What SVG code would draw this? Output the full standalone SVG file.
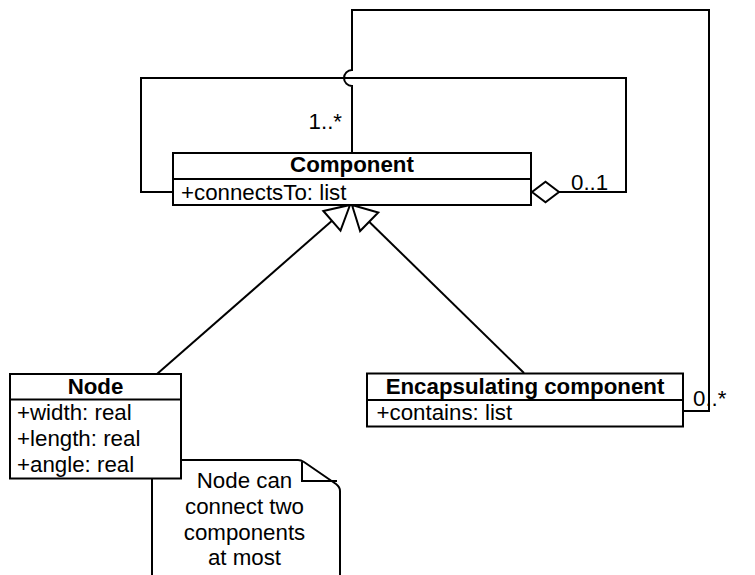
<svg xmlns="http://www.w3.org/2000/svg" width="755" height="575" viewBox="0 0 755 575">
  <style>
    text { font-family: "Liberation Sans", Arial, Helvetica, sans-serif; font-size: 22.3px; fill: #000; }
    .title { font-weight: bold; text-anchor: middle; }
    .mid { text-anchor: middle; }
    .end { text-anchor: end; }
    .box { fill: #fff; stroke: #000; stroke-width: 2; }
    .sep { stroke: #000; stroke-width: 2; fill: none; }
    .edge { fill: none; stroke: #000; stroke-width: 2; }
  </style>
  <defs>
    <!-- hollow triangle for generalization -->
    <marker id="gen" markerUnits="userSpaceOnUse" viewBox="-2 -15 28 30" markerWidth="28" markerHeight="30" refX="24" refY="0" orient="auto" overflow="visible">
      <path d="M0,-13 L24,0 L0,13 Z" fill="#fff" stroke="#000" stroke-width="2"/>
    </marker>
    <!-- hollow diamond for aggregation -->
    <marker id="agg" markerUnits="userSpaceOnUse" viewBox="-29 -12 31 24" markerWidth="31" markerHeight="24" refX="0" refY="0" orient="auto" overflow="visible">
      <path d="M0,0 L-13.5,-10.3 L-27,0 L-13.5,10.3 Z" fill="#fff" stroke="#000" stroke-width="2"/>
    </marker>
  </defs>

  <rect width="755" height="575" fill="#fff"/>

  <!-- note attached below the Node class -->
  <g id="note">
    <path class="box" d="M152,580 V460 H298 Q301,460 304,462 L336,484 Q340,487 340,491 V580"/>
    <path class="sep" d="M302,462 V481 H337"/>
    <text class="mid" x="244.5" y="488">Node can</text>
    <text class="mid" x="244.5" y="514">connect two</text>
    <text class="mid" x="244.5" y="539.5">components</text>
    <text class="mid" x="244.5" y="565">at most</text>
  </g>

  <g id="connectors">
    <!-- Node and Encapsulating component specialise Component -->
    <path class="edge" d="M157,374 L350,205" marker-end="url(#gen)"/>
    <path class="edge" d="M524,373 L352,205" marker-end="url(#gen)"/>
    <!-- Component connectsTo Component (aggregation) -->
    <path class="edge" d="M173,192 H141 V78 H626 V192 H532" marker-end="url(#agg)"/>
    <!-- Encapsulating component contains Component, hopping over the loop above -->
    <path class="edge" d="M683,411 H709 V10 H352 V70 A8,8 0 0 0 352,86 V153"/>
    <text class="end" x="342" y="129">1..*</text>
    <text x="571" y="190">0..1</text>
    <text x="693" y="406">0..*</text>
  </g>

  <g id="component">
    <rect class="box" x="173" y="153" width="358" height="52"/>
    <line class="sep" x1="173" y1="179" x2="531" y2="179"/>
    <text class="title" x="352" y="172">Component</text>
    <text x="181" y="200">+connectsTo: list</text>
  </g>

  <g id="node">
    <rect class="box" x="10" y="374" width="171" height="104.5"/>
    <line class="sep" x1="10" y1="399.5" x2="181" y2="399.5"/>
    <text class="title" x="95.5" y="394">Node</text>
    <text x="17" y="420">+width: real</text>
    <text x="17" y="446">+length: real</text>
    <text x="17" y="471.5">+angle: real</text>
  </g>

  <g id="encapsulating-component">
    <rect class="box" x="367" y="373.5" width="316" height="53"/>
    <line class="sep" x1="367" y1="400" x2="683" y2="400"/>
    <text class="title" x="525" y="394">Encapsulating component</text>
    <text x="376.5" y="420">+contains: list</text>
  </g>
</svg>
